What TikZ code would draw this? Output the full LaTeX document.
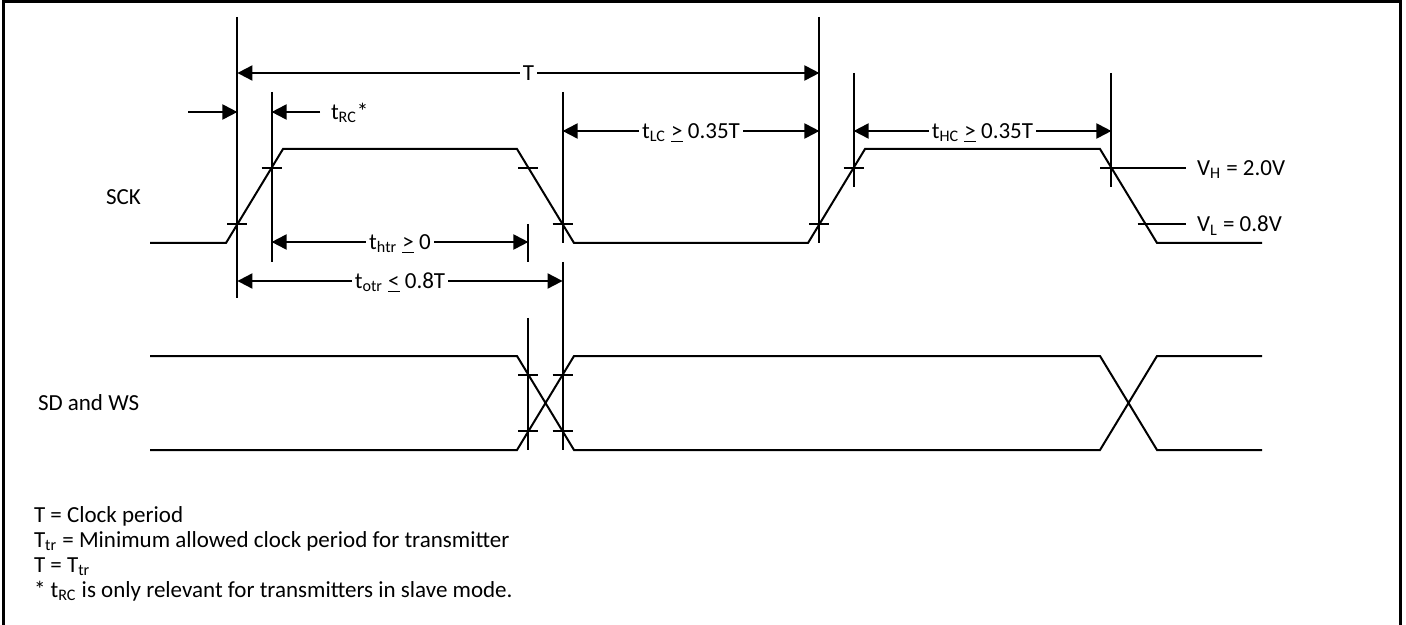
\documentclass[tikz,border=0pt]{standalone}
\usepackage{fontspec}
\setmainfont{Carlito}
\usetikzlibrary{arrows.meta,calc}
\begin{document}
\begin{tikzpicture}[x=.5pt, y=-.5pt, line width=1pt, font=\fontsize{11.5}{14}\selectfont, >={Triangle[length=7.5pt,width=7.5pt]},
	lbl/.style={inner xsep=1.5pt, inner ysep=0pt, text height=7.4pt, text depth=0pt},
	gap/.style={lbl, fill=white}]
	\useasboundingbox (0,0) rectangle (1406,625);
	\def\lo{243} \def\hi{149} \def\dlo{450} \def\dhi{356}
	% frame
	\draw[line width=1.5pt] (3,625)--(3,2)--(1400,2)--(1400,625);
	% SCK edges, thresholds at 20% and 80%
	\foreach \e/\xa/\ya/\xb/\yb/\fl/\fh in {r1/226/\lo/283/\hi/.2/.8, f1/517/\hi/574/\lo/.8/.2, r2/808/\lo/865/\hi/.2/.8, f2/1100/\hi/1157/\lo/.8/.2}{
		\coordinate (\e a) at (\xa,\ya); \coordinate (\e b) at (\xb,\yb);
		\coordinate (\e l) at ($(\e a)!\fl!(\e b)$);
		\coordinate (\e h) at ($(\e a)!\fh!(\e b)$);
	}
	\draw (150,\lo)--(r1a)--(r1b)--(f1a)--(f1b)--(r2a)--(r2b)--(f2a)--(f2b)--(1262,\lo);
	% SD and WS
	\coordinate (s1a) at (517,\dhi); \coordinate (s1b) at (574,\dlo);
	\coordinate (s1h) at ($(s1a)!.2!(s1b)$); \coordinate (s1l) at ($(s1a)!.8!(s1b)$);
	\draw (150,\dhi)--(517,\dhi)--(574,\dlo)--(1100,\dlo)--(1157,\dhi)--(1262,\dhi)
		(150,\dlo)--(517,\dlo)--(574,\dhi)--(1100,\dhi)--(1157,\dlo)--(1262,\dlo);
	% ticks
	\foreach \p in {r1l,r1h,f1h,f1l,r2l,r2h,s1h,s1l} \draw ($(\p)+(-10,0)$)--++(20,0);
	\draw ($(s1h|-s1l)+(-10,0)$)--++(20,0) ($(s1l|-s1h)+(-10,0)$)--++(20,0);
	% reference lines
	\draw (r1l|-0,17)--(r1l|-0,298) (r1h|-0,92)--(r1h|-0,262)
		(f1h|-0,224)--(f1h|-0,262) (f1l|-0,92)--(f1l|-0,\lo) (f1l|-0,262)--(f1l|-0,\dlo)
		(r2l|-0,17)--(r2l|-0,\lo) (r2h|-0,73)--(r2h|-0,187) (f2h|-0,73)--(f2h|-0,187)
		(s1h|-0,318)--(s1h|-0,\dlo);
	% timings
	\draw[<->] (r1l|-0,73) -- node[gap]{T} (r2l|-0,73);
	\node[lbl, anchor=west, inner xsep=5pt] (trc) at (320,112) {t\textsubscript{RC}*};
	\draw[->] (188,112) -- (r1l|-0,112);
	\draw[->] (trc.west) -- (r1h|-trc.west);
	\draw[<->] (f1l|-0,131) -- node[gap]{t\textsubscript{LC} \underline{>} 0.35T} (r2l|-0,131);
	\draw[<->] (r2h|-0,131) -- node[gap]{t\textsubscript{HC} \underline{>} 0.35T} (f2h|-0,131);
	\draw[<->] (r1h|-0,242) -- node[gap]{t\textsubscript{htr} \underline{>} 0} (f1h|-0,242);
	\draw[<->] (r1l|-0,281) -- node[gap]{t\textsubscript{otr} \underline{<} 0.8T} (f1l|-0,281);
	% levels
	\node[lbl, anchor=west, inner xsep=5pt] (vh) at (f2h-|1186,0) {V\textsubscript{H} = 2.0V};
	\node[lbl, anchor=west, inner xsep=5pt] (vl) at (f2l-|1186,0) {V\textsubscript{L} = 0.8V};
	\draw ($(f2h)+(-11,0)$) -- (vh.west) ($(f2l)+(-8,0)$) -- (vl.west);
	% signal names
	\node[lbl, anchor=west, inner xsep=0pt] (sck) at (105,197) {SCK};
	\node[lbl, anchor=west, inner xsep=0pt] (sd) at (37,403) {SD and WS};
	% notes
	\foreach \txt [count=\i] in {{T = Clock period}, {T\textsubscript{tr} = Minimum allowed clock period for transmitter}, {T = T\textsubscript{tr}}, {* t\textsubscript{RC} is only relevant for transmitters in slave mode.}}
		\node[anchor=base west, inner sep=0pt] (note\i) at (33,497+25*\i) {\txt};
\end{tikzpicture}
\end{document}
